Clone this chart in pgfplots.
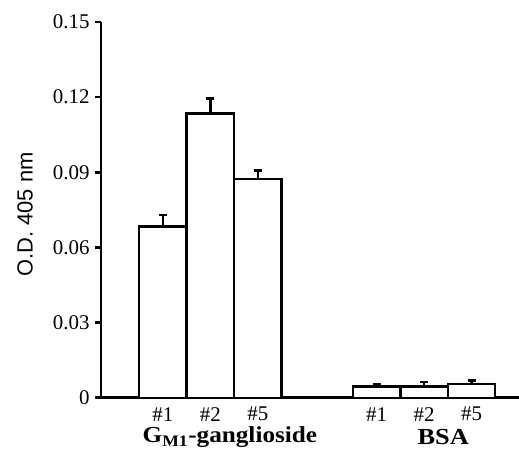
\documentclass[border=0pt]{standalone}
\usepackage{pgfplots}
\pgfplotsset{compat=1.18}
\usepackage{fontspec}
\setmainfont{Liberation Serif}
\newfontfamily\arial{Liberation Sans}
\begin{document}
\begin{tikzpicture}
\begin{axis}[
  scale only axis,
  width=418bp, height=375.7bp,
  xmin=-0.305, xmax=8.5,
  ymin=0, ymax=0.15,
  axis x line=bottom, axis y line=left,
  axis line style={-, line width=2.8bp, black},
  xtick={1,2,3,5.5,6.5,7.5},
  xticklabels={\#1,\#2,\#5,\#1,\#2,\#5},
  major x tick style={draw=none},
  ytick={0,0.03,0.06,0.09,0.12,0.15},
  yticklabels={0,0.03,0.06,0.09,0.12,0.15},
  tick align=outside,
  major tick length=6bp,
  major y tick style={line width=2.5bp, black},
  /pgf/number format/assume math mode=true,
  tick label style={font=\fontsize{21}{24}\selectfont},
  yticklabel style={xshift=-2bp},
  xticklabel style={yshift=0bp},
  clip=false,
  ybar, bar width=1, bar shift=0pt,
]
\addplot[draw=black, fill=white, line width=2.4bp,
  error bars/.cd, y dir=plus, y explicit,
  error bar style={line width=2.6bp, black},
  error mark options={rotate=90, line width=2.6bp, mark size=4bp, black}]
  table[x=x, y=y, y error=e] {
x y e
1 0.0683 0.0047
2 0.1135 0.0059
3 0.0872 0.0036
5.5 0.0044 0.0009
6.5 0.0044 0.0019
7.5 0.0054 0.0014
};
\coordinate (o) at (rel axis cs:0,0);
\node[font=\bfseries\fontsize{23}{26}\selectfont, xscale=1.1] at (axis cs:2.41,-0.0158) {G\textsubscript{M1}-ganglioside};
\node[font=\bfseries\fontsize{23}{26}\selectfont, xscale=1.15] at (axis cs:6.905,-0.0158) {BSA};
\node[font=\arial\fontsize{22}{26}\selectfont, rotate=90] at (axis cs:-1.905,0.0731) {O.D. 405 nm};
\end{axis}
\pgfresetboundingbox
\path (o) ++(-101bp,-65.3bp) rectangle ++(519bp,463bp);
\end{tikzpicture}
\end{document}
